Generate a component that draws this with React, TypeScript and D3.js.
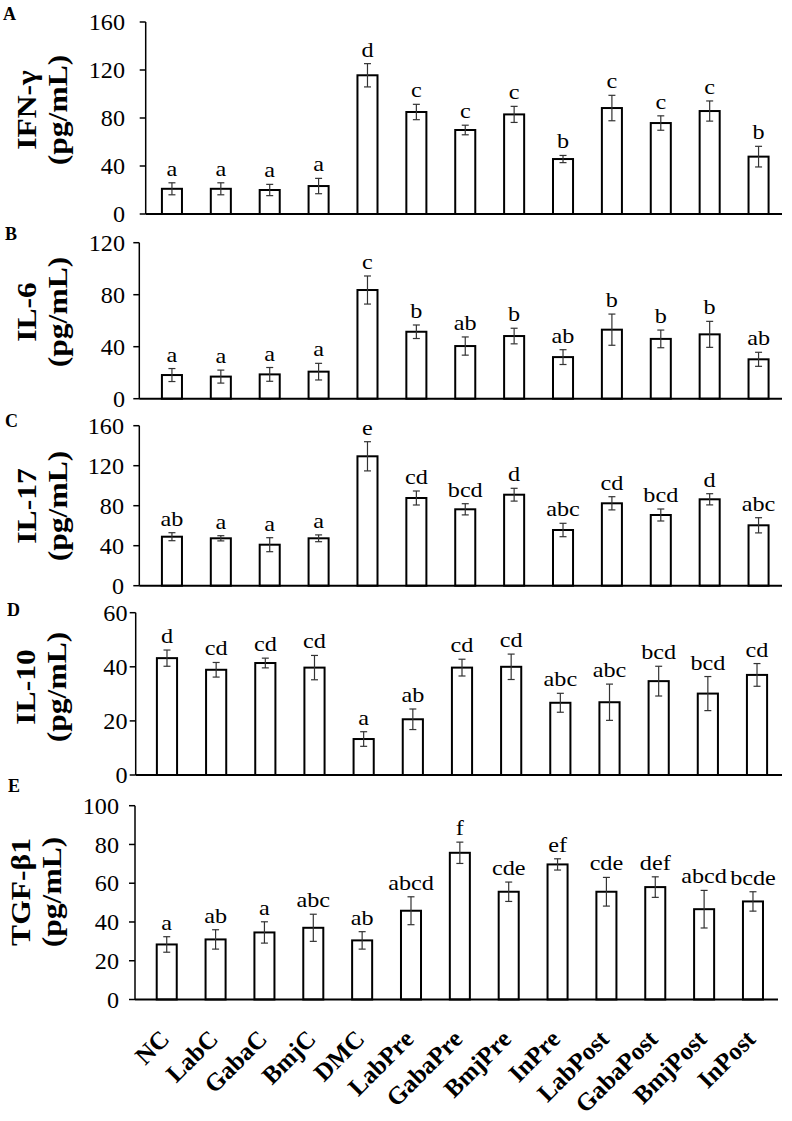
import React from "react";
import * as d3 from "d3";

const categories = ["NC", "LabC", "GabaC", "BmjC", "DMC", "LabPre", "GabaPre", "BmjPre", "InPre", "LabPost", "GabaPost", "BmjPost", "InPost"];

const ifnMeans = [21, 21, 20, 23.3, 115.6, 85, 70, 83, 45.8, 88.3, 75.8, 85.8, 47.8];
const ifnErr = [5, 5, 4.7, 6.4, 9.7, 6.4, 4, 6.7, 3, 10.6, 6, 8.4, 8.6];
const ifnLetters = ["a", "a", "a", "a", "d", "c", "c", "c", "b", "c", "c", "c", "b"];

const il6Means = [18.2, 17, 18.7, 20.8, 83.6, 51.5, 40.5, 48.2, 32, 53.1, 46, 49.5, 30.3];
const il6Err = [5, 5, 5.3, 6.4, 10.8, 5.2, 7, 6, 5.7, 12, 6.8, 10, 5.4];
const il6Letters = ["a", "a", "a", "a", "c", "b", "ab", "b", "ab", "b", "b", "b", "ab"];

const il17Means = [49, 47.4, 41, 47.4, 129.4, 87.7, 76.4, 91, 55.7, 82.4, 70.7, 86.4, 60.4];
const il17Err = [4, 2.6, 7, 3.4, 14.6, 7, 5.6, 6.4, 6.7, 6.6, 6, 5.6, 7.6];
const il17Letters = ["ab", "a", "a", "a", "e", "cd", "bcd", "d", "abc", "cd", "bcd", "d", "abc"];

const il10Means = [43.2, 38.9, 41.4, 39.7, 13.3, 20.6, 39.7, 40, 26.7, 26.9, 34.7, 30.1, 37];
const il10Err = [3, 2.7, 1.8, 4.5, 2.7, 3.8, 3.1, 4.7, 3.5, 6.7, 5.5, 6.3, 4.2];
const il10Letters = ["d", "cd", "cd", "cd", "a", "ab", "cd", "cd", "abc", "abc", "bcd", "bcd", "cd"];

const tgfMeans = [28.4, 31, 34.6, 37, 30.5, 45.8, 75.7, 55.6, 69.7, 55.6, 58, 46.6, 50.6];
const tgfErr = [4, 5, 5.5, 7, 4.5, 7.2, 5.5, 5, 2.9, 7.4, 5.3, 9.7, 5];
const tgfLetters = ["a", "ab", "a", "abc", "ab", "abcd", "f", "cde", "ef", "cde", "def", "abcd", "bcde"];

const panelTags = ["A", "B", "C", "D", "E"];
const panelTitles = ["IFN-γ", "IL-6", "IL-17", "IL-10", "TGF-β1"];
const unitLabel = "(pg/mL)";
const yMaxes = [160, 120, 160, 60, 100];
const yTickSteps = [40, 40, 40, 20, 20];

const seriesMeans = [ifnMeans, il6Means, il17Means, il10Means, tgfMeans];
const seriesErr = [ifnErr, il6Err, il17Err, il10Err, tgfErr];
const seriesLetters = [ifnLetters, il6Letters, il17Letters, il10Letters, tgfLetters];

// layout (pixels)
const layout = [
  { top: 22, bottom: 214, axisX: 145.7, x0: 147.5, x1: 783, xEnd: 782, labelRight: 125, titleY: 110, titleX: 36, tagY: 20, tagX: 3 },
  { top: 242.7, bottom: 398.7, axisX: 139.3, x0: 147.5, x1: 783, xEnd: 782, labelRight: 125, titleY: 312, titleX: 36, tagY: 240, tagX: 5 },
  { top: 425.7, bottom: 585.7, axisX: 139.3, x0: 147.5, x1: 783, xEnd: 782, labelRight: 124, titleY: 506, titleX: 36, tagY: 427, tagX: 5 },
  { top: 612.7, bottom: 775, axisX: 135.7, x0: 142.4, x1: 781.6, xEnd: 782, labelRight: 127.5, titleY: 687, titleX: 35, tagY: 616, tagX: 7 },
  { top: 805.7, bottom: 999.5, axisX: 135, x0: 142.3, x1: 777.4, xEnd: 778, labelRight: 119, titleY: 892, titleX: 30, tagY: 792, tagX: 8 },
];

const FONT = "Liberation Serif, Times New Roman, Times, serif";

function Panel({ idx }: { idx: number }) {
  const L = layout[idx];
  const means = seriesMeans[idx];
  const errs = seriesErr[idx];
  const letters = seriesLetters[idx];
  const x = d3.scaleBand<string>().domain(categories).range([L.x0, L.x1]).paddingInner(0.59).paddingOuter(0.295);
  const y = d3.scaleLinear().domain([0, yMaxes[idx]]).range([L.bottom, L.top]);
  const ticks = d3.range(0, yMaxes[idx] + 0.001, yTickSteps[idx]);
  const bw = x.bandwidth();
  return (
    <g>
      <text x={L.tagX} y={L.tagY} fontWeight="bold" fontSize={18}>{panelTags[idx]}</text>
      <g transform={`translate(${L.titleX},${L.titleY}) rotate(-90) scale(1.17,1)`}>
        <text x={0} y={0} textAnchor="middle" fontWeight="bold" fontSize={27}>{panelTitles[idx]}</text>
        <text x={0} y={31} textAnchor="middle" fontWeight="bold" fontSize={27}>{unitLabel}</text>
      </g>
      {means.map((m, i) => {
        const cx = (x(categories[i]) as number) + bw / 2;
        const yt = y(m + errs[i]);
        const yb = y(m - errs[i]);
        return (
          <g key={i}>
            <rect x={x(categories[i])} y={y(m)} width={bw} height={L.bottom - y(m)} fill="#fff" stroke="#000" strokeWidth={2} />
            <line x1={cx} x2={cx} y1={yt} y2={yb} stroke="#333" strokeWidth={1.2} />
            <line x1={cx - 3.5} x2={cx + 3.5} y1={yt} y2={yt} stroke="#333" strokeWidth={1.2} />
            <line x1={cx - 3.5} x2={cx + 3.5} y1={yb} y2={yb} stroke="#333" strokeWidth={1.2} />
            <text transform={`translate(${cx},${yt - 7}) scale(1.1,1)`} textAnchor="middle" fontSize={22}>{letters[i]}</text>
          </g>
        );
      })}
      <line x1={L.axisX} x2={L.axisX} y1={L.top} y2={L.bottom} stroke="#000" strokeWidth={1.5} />
      {ticks.map((t) => (
        <g key={t}>
          <line x1={L.axisX - 6} x2={L.axisX} y1={y(t)} y2={y(t)} stroke="#000" strokeWidth={1.5} />
          <text transform={`translate(${L.labelRight},${y(t)}) scale(1.05,1)`} dy="0.35em" textAnchor="end" fontSize={23}>{t}</text>
        </g>
      ))}
      <line x1={L.axisX} x2={L.xEnd} y1={L.bottom} y2={L.bottom} stroke="#000" strokeWidth={2} />
    </g>
  );
}

export default function App() {
  const L = layout[4];
  const x = d3.scaleBand<string>().domain(categories).range([L.x0, L.x1]).paddingInner(0.59).paddingOuter(0.295);
  return (
    <svg width={792} height={1121} style={{ position: "absolute", left: 0, top: 0, background: "#fff", fontFamily: FONT }}>
      <rect width={792} height={1121} fill="#fff" />
      {[0, 1, 2, 3, 4].map((i) => <Panel key={i} idx={i} />)}
      {categories.map((c) => {
        const cx = (x(c) as number) + x.bandwidth() / 2 + 4;
        return (
          <text key={c} transform={`translate(${cx},${L.bottom + 41}) rotate(-45)`} textAnchor="end" fontWeight="bold" fontSize={25}>{c}</text>
        );
      })}
    </svg>
  );
}
